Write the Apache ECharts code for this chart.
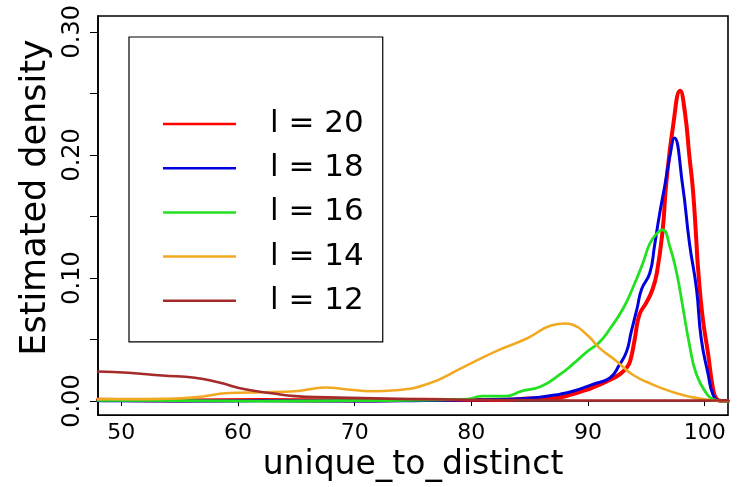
<!DOCTYPE html>
<html>
<head>
<meta charset="utf-8">
<script src="https://cdn.jsdelivr.net/npm/echarts@6/dist/echarts.min.js"></script>
<style>html,body{margin:0;padding:0;background:#fff;}#c{width:740px;height:487px;}</style>
</head>
<body>
<div id="c"></div>
<script>
// Series values: x = unique_to_distinct, y = estimated density
var l20X = [48, 55, 62, 70, 76, 80, 83, 85, 86.5, 87.6, 88.7, 89.5, 90.4, 91.6, 92.7, 93.3, 93.6, 94.0, 94.4, 95.0, 95.5, 95.9, 96.4, 96.7, 97.3, 97.9, 98.3, 98.7, 99.0, 99.3, 99.4, 99.8, 100.3, 100.7, 101.0, 101.5, 102];
var l20Y = [0.001, 0.0005, 0.0008, 0.0005, 0.001, 0.0008, 0.001, 0.002, 0.002, 0.003, 0.0056, 0.008, 0.011, 0.016, 0.0216, 0.027, 0.032, 0.05, 0.07, 0.08, 0.09, 0.104, 0.139, 0.176, 0.224, 0.252, 0.235, 0.198, 0.171, 0.128, 0.112, 0.07, 0.038, 0.011, 0.002, 0, 0];

var l18X = [48, 55, 62, 70, 76, 80, 83, 85.7, 87.6, 88.7, 90.4, 91.9, 92.7, 93.3, 93.7, 94.2, 94.6, 95.3, 95.7, 96.1, 96.6, 97.0, 97.4, 98.1, 98.7, 99.3, 99.7, 100.3, 100.7, 101.2, 102];
var l18Y = [0.0003, 0, 0.0003, 0, 0.0005, 0.001, 0.0015, 0.003, 0.0056, 0.008, 0.0136, 0.019, 0.0296, 0.04, 0.056, 0.075, 0.091, 0.104, 0.126, 0.15, 0.176, 0.198, 0.2136, 0.176, 0.128, 0.091, 0.051, 0.0216, 0.0056, 0.0005, 0];

var l16X = [48, 55, 62, 70, 76, 79.7, 80.9, 82.9, 84.3, 86.0, 87.6, 88.7, 89.9, 91.0, 91.9, 93.0, 93.8, 94.7, 95.3, 95.9, 96.4, 97.0, 97.6, 98.1, 98.7, 99.3, 100.2, 100.7, 101.5, 102];
var l16Y = [0.0005, 0.0003, 0, 0.0003, 0.0008, 0.0016, 0.004, 0.004, 0.008, 0.012, 0.0216, 0.03, 0.04, 0.048, 0.059, 0.075, 0.091, 0.112, 0.128, 0.136, 0.139, 0.126, 0.104, 0.078, 0.0456, 0.0216, 0.0056, 0.0016, 0, 0];

var l14X = [48, 50.6, 53.5, 56.3, 59.2, 62.1, 64.9, 67.5, 69.2, 71.5, 73.5, 76.3, 79.2, 82.0, 84.8, 86.9, 88.0, 88.7, 90.0, 91.0, 92.5, 93.8, 95.5, 97.3, 99.0, 100.7, 102];
var l14Y = [0.0016, 0.0016, 0.0018, 0.003, 0.0065, 0.0072, 0.008, 0.011, 0.0096, 0.008, 0.0088, 0.014, 0.027, 0.04, 0.051, 0.0616, 0.063, 0.062, 0.053, 0.043, 0.032, 0.0216, 0.0136, 0.0072, 0.003, 0.0005, 0];

var l12X = [48, 50.6, 53.5, 56.3, 58.3, 60.6, 62.9, 64.9, 67.7, 70.6, 74.9, 80, 85, 90, 95, 100, 102];
var l12Y = [0.024, 0.023, 0.0208, 0.019, 0.0152, 0.0096, 0.0064, 0.004, 0.003, 0.0024, 0.0016, 0.001, 0.0008, 0.0005, 0.0005, 0.0005, 0.0005];

var seriesNames = ['l = 20', 'l = 18', 'l = 16', 'l = 14', 'l = 12'];
var seriesColors = ['#ff0000', '#0000dd', '#22e022', '#f2a922', '#a52a2a'];
var seriesWidths = [4, 3, 2.8, 2.6, 2.6];

var xTicks = [50, 60, 70, 80, 90, 100];
var yTicks = [0, 0.05, 0.10, 0.15, 0.20, 0.25, 0.30];
var yLabels = [0, 0.10, 0.20, 0.30];

function pairs(xs, ys) { return xs.map(function (x, i) { return [x, ys[i]]; }); }
var allX = [l20X, l18X, l16X, l14X, l12X];
var allY = [l20Y, l18Y, l16Y, l14Y, l12Y];

var FONT = 'DejaVu Sans';
var chart = echarts.init(document.getElementById('c'), null, { renderer: 'canvas' });
chart.setOption({
  animation: false,
  backgroundColor: '#ffffff',
  grid: { left: 98, right: 12, top: 16, bottom: 65, show: true, borderColor: '#000', borderWidth: 1.6, backgroundColor: 'transparent' },
  legend: {
    orient: 'vertical',
    left: 129, top: 37,
    padding: [71, 19, 25, 34],
    borderColor: '#000', borderWidth: 1.2,
    itemGap: 12.2,
    itemWidth: 73, itemHeight: 2.5,
    icon: 'rect',
    selectedMode: false,
    data: seriesNames,
    textStyle: { fontFamily: FONT, fontSize: 31, color: '#000', lineHeight: 32, padding: [0, 0, 0, 29] }
  },
  xAxis: {
    type: 'value', min: 48, max: 102,
    name: 'unique_to_distinct', nameLocation: 'middle', nameGap: 27,
    nameTextStyle: { fontFamily: FONT, fontSize: 33, color: '#000' },
    axisLine: { show: true, lineStyle: { color: '#000', width: 1.6 } },
    axisTick: { show: true, length: 5, customValues: xTicks, lineStyle: { color: '#000', width: 1 } },
    axisLabel: { customValues: xTicks, fontFamily: FONT, fontSize: 22, color: '#000', margin: 7 },
    splitLine: { show: false }
  },
  yAxis: {
    type: 'value', min: -0.0114, max: 0.3128,
    name: 'Estimated density', nameLocation: 'middle', nameRotate: 90, nameGap: 44,
    nameTextStyle: { fontFamily: FONT, fontSize: 35, color: '#000', padding: [0, 0, 0, 36] },
    axisLine: { show: true, lineStyle: { color: '#000', width: 1.6 } },
    axisTick: { show: true, length: 8, customValues: yTicks, lineStyle: { color: '#000', width: 1 } },
    axisLabel: { customValues: yLabels, rotate: 90, fontFamily: FONT, fontSize: 24, color: '#000', margin: 13,
      formatter: function (v) { return v.toFixed(2); } },
    splitLine: { show: false }
  },
  series: seriesNames.map(function (n, i) {
    return {
      name: n, type: 'line', data: pairs(allX[i], allY[i]),
      showSymbol: false, symbol: 'none', smooth: 0.5, clip: true,
      color: seriesColors[i],
      lineStyle: { color: seriesColors[i], width: seriesWidths[i], join: 'round', cap: 'round' },
      emphasis: { disabled: true }
    };
  })
});
</script>
</body>
</html>
